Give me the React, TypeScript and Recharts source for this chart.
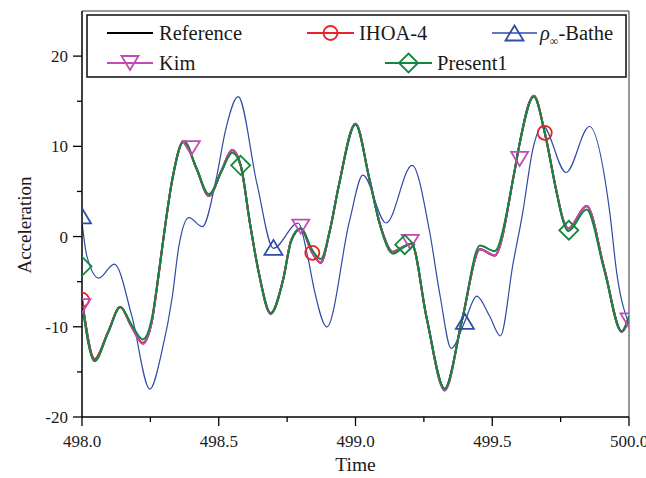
import React from 'react';
import { LineChart, Line, XAxis, YAxis, ReferenceLine, Label } from 'recharts';

const FONT = '"Liberation Serif", "Times New Roman", Times, serif';

// ---------- data ----------
const mainTime = [
  498.0, 498.046, 498.095, 498.14, 498.18, 498.222, 498.256, 498.275, 498.3, 498.33,
  498.372, 498.418, 498.464, 498.51, 498.549, 498.58, 498.615, 498.645, 498.69, 498.735,
  498.765, 498.8, 498.842, 498.873, 498.905, 498.94, 499.0, 499.05, 499.09, 499.137,
  499.17, 499.205, 499.26, 499.326, 499.39, 499.455, 499.509, 499.58, 499.6, 499.652,
  499.692, 499.735, 499.76, 499.778, 499.845, 499.91, 499.973, 500.0,
];
const referenceAcc = [
  -7.0, -13.6, -10.6, -7.8, -9.9, -11.8, -9.3, -5.4, 0.3, 6.3,
  10.6, 7.6, 4.5, 7.3, 9.6, 7.9, 1.3, -3.8, -8.5, -4.8,
  -0.4, 0.9, -1.8, -2.9, 0.5, 5.8, 12.5, 6.5, 1.3, -1.7,
  -1.2, -0.8, -9.0, -16.9, -9.2, -1.4, -2.1, 7.0, 10.3, 15.6,
  11.5, 5.0, 1.8, 0.9, 3.4, -3.6, -10.5, -9.0,
];
const ihoaAcc = [
  -7.0, -13.6, -10.6, -7.8, -9.9, -11.8, -9.3, -5.4, 0.3, 6.3,
  10.6, 7.6, 4.5, 7.3, 9.6, 7.9, 1.3, -3.8, -8.5, -4.8,
  -0.4, 0.9, -1.8, -2.9, 0.5, 5.8, 12.5, 6.5, 1.3, -1.7,
  -1.2, -0.8, -9.0, -16.9, -9.2, -1.4, -2.1, 7.0, 10.3, 15.6,
  11.5, 5.0, 1.8, 0.9, 3.4, -3.6, -10.5, -9.0,
];
const kimAcc = [
  -7.1, -13.8, -10.6, -7.8, -9.9, -11.9, -9.3, -5.4, 0.3, 6.3,
  10.6, 7.6, 4.5, 7.3, 9.6, 7.9, 1.3, -3.8, -8.6, -4.8,
  -0.4, 0.9, -1.8, -2.9, 0.5, 5.8, 12.5, 6.5, 1.3, -1.8,
  -1.2, -0.8, -9.0, -17.1, -9.2, -1.4, -2.1, 7.0, 10.3, 15.6,
  11.5, 5.0, 1.8, 0.9, 3.4, -3.6, -10.6, -9.0,
];
const present1Acc = [
  -7.4, -13.8, -10.7, -7.8, -9.7, -11.4, -9.0, -5.3, 0.3, 6.3,
  10.5, 7.6, 4.7, 7.2, 9.3, 7.9, 1.3, -3.8, -8.5, -4.9,
  -0.5, 0.9, -1.5, -2.5, 0.5, 5.8, 12.4, 6.5, 1.2, -1.9,
  -1.3, -0.8, -9.0, -16.9, -9.2, -1.0, -1.6, 7.0, 10.3, 15.5,
  11.5, 4.9, 1.6, 0.6, 3.0, -3.8, -10.5, -8.8,
];

const batheTime = [
  498.0, 498.018, 498.061, 498.118, 498.183, 498.248, 498.293, 498.33, 498.354, 498.391,
  498.44, 498.49, 498.525, 498.571, 498.64, 498.7, 498.79, 498.825, 498.85, 498.895,
  498.978, 499.027, 499.112, 499.207, 499.27, 499.31, 499.35, 499.4, 499.443, 499.49,
  499.53, 499.576, 499.61, 499.65, 499.684, 499.77, 499.855, 499.93, 499.955, 500.0,
];
const batheAcc = [
  1.6, -2.2, -4.6, -3.05, -8.9, -16.9, -12.6, -6.7, -1.1, 2.1,
  1.1, 6.3, 11.8, 15.5, 5.8, -1.3, 1.5, -2.2, -6.0, -10.0,
  1.7, 6.8, 1.5, 7.9, 0.7, -6.7, -12.4, -9.4, -6.6, -8.8,
  -11.0, -3.0, 2.4, 9.9, 12.3, 7.1, 12.2, 2.6, -4.0, -9.7,
];

// marker positions
const ihoaMarkTime = [498.0, 498.842, 499.692];
const ihoaMarkAcc = [-7.0, -1.8, 11.5];
const batheMarkTime = [498.0, 498.7, 499.4];
const batheMarkAcc = [2.3, -1.2, -9.4];
const kimMarkTime = [498.0, 498.4, 498.8, 499.2, 499.6, 500.0];
const kimMarkAcc = [-7.7, 9.8, 1.1, -0.6, 8.6, -9.3];
const present1MarkTime = [498.0, 498.58, 499.18, 499.78];
const present1MarkAcc = [-3.3, 7.9, -0.9, 0.7];

const xTicks = [498.0, 498.25, 498.5, 498.75, 499.0, 499.25, 499.5, 499.75, 500.0];
const yTicks = [-20, -15, -10, -5, 0, 5, 10, 15, 20];

// ---------- colours ----------
const C_REF = '#000000';
const C_IHOA = '#e8232b';
const C_BATHE = '#2f4ba6';
const C_KIM = '#c24ab2';
const C_PRES = '#12873d';

const zip = (t: number[], v: number[]) => t.map((x, i) => ({ t: x, y: v[i] }));

const referenceData = zip(mainTime, referenceAcc);
const ihoaData = zip(mainTime, ihoaAcc);
const kimData = zip(mainTime, kimAcc);
const present1Data = zip(mainTime, present1Acc);
const batheData = zip(batheTime, batheAcc);
const ihoaMarks = zip(ihoaMarkTime, ihoaMarkAcc);
const batheMarks = zip(batheMarkTime, batheMarkAcc);
const kimMarks = zip(kimMarkTime, kimMarkAcc);
const present1Marks = zip(present1MarkTime, present1MarkAcc);

// ---------- marker shapes ----------
type Shape = 'circle' | 'up' | 'down' | 'diamond';
const Marker = ({ shape, cx, cy, color }: { shape: Shape; cx: number; cy: number; color: string }) => {
  const sw = 1.8;
  if (shape === 'circle') return <circle cx={cx} cy={cy} r={7} fill="none" stroke={color} strokeWidth={sw} />;
  if (shape === 'up')
    return (
      <polygon
        points={`${cx - 9},${cy + 7.5} ${cx + 9},${cy + 7.5} ${cx},${cy - 7.5}`}
        fill="none"
        stroke={color}
        strokeWidth={sw}
        strokeLinejoin="miter"
      />
    );
  if (shape === 'down')
    return (
      <polygon
        points={`${cx - 8.5},${cy - 7} ${cx + 8.5},${cy - 7} ${cx},${cy + 7}`}
        fill="none"
        stroke={color}
        strokeWidth={sw}
      />
    );
  return (
    <polygon
      points={`${cx},${cy - 9.5} ${cx + 9.5},${cy} ${cx},${cy + 9.5} ${cx - 9.5},${cy}`}
      fill="none"
      stroke={color}
      strokeWidth={sw}
    />
  );
};

const dotRenderer = (shape: Shape, color: string) => (p: any) => (
  <g key={`m-${shape}-${p.index}`}>
    {p.cx != null && p.cy != null ? <Marker shape={shape} cx={p.cx} cy={p.cy} color={color} /> : null}
  </g>
);

// ---------- ticks ----------
const YTick = (props: any) => {
  const { x, y, payload } = props;
  const v = payload.value as number;
  const major = v % 10 === 0;
  return (
    <g>
      <line x1={x} y1={y} x2={x - (major ? 9 : 5)} y2={y} stroke="#000" strokeWidth={1.3} />
      {major && (
        <text x={x - 14} y={y + 6} textAnchor="end" fontSize={17} fontFamily={FONT} fill="#1a1a1a">
          {v}
        </text>
      )}
    </g>
  );
};

const XTick = (props: any) => {
  const { x, y, payload } = props;
  const v = payload.value as number;
  const major = Math.abs(v * 2 - Math.round(v * 2)) < 1e-6;
  return (
    <g>
      <line x1={x} y1={y} x2={x} y2={y + (major ? 9 : 5)} stroke="#000" strokeWidth={1.3} />
      {major && (
        <text x={x} y={y + 30} textAnchor="middle" fontSize={17} fontFamily={FONT} fill="#1a1a1a">
          {v.toFixed(1)}
        </text>
      )}
    </g>
  );
};

// ---------- legend ----------
const LegendOverlay = () => {
  const fs = 20.5;
  const items = [
    { name: 'Reference', color: C_REF, shape: null as Shape | null, x1: 107, x2: 153, tx: 159, ly: 33 },
    { name: 'IHOA-4', color: C_IHOA, shape: 'circle' as Shape, x1: 307, x2: 354, tx: 359, ly: 33 },
    { name: 'BATHE', color: C_BATHE, shape: 'up' as Shape, x1: 492, x2: 537, tx: 540, ly: 33 },
    { name: 'Kim', color: C_KIM, shape: 'down' as Shape, x1: 107, x2: 153, tx: 159, ly: 63 },
    { name: 'Present1', color: C_PRES, shape: 'diamond' as Shape, x1: 385, x2: 432, tx: 437, ly: 63 },
  ];
  return (
    <svg width={646} height={90} style={{ position: 'absolute', left: 0, top: 0, pointerEvents: 'none' }}>
      <rect x={87} y={15} width={539} height={62} fill="#fff" stroke="#1a1a1a" strokeWidth={1.6} />
      {items.map((it) => (
        <g key={it.name}>
          <line x1={it.x1} y1={it.ly} x2={it.x2} y2={it.ly} stroke={it.color} strokeWidth={it.name === 'BATHE' ? 1.4 : 2} />
          {it.shape && <Marker shape={it.shape} cx={(it.x1 + it.x2) / 2} cy={it.ly} color={it.color} />}
          {it.name === 'BATHE' ? (
            <text x={it.tx} y={it.ly + 7} fontSize={fs} fontFamily={FONT} fill="#1a1a1a">
              <tspan fontStyle="italic">ρ</tspan>
              <tspan fontSize={12} dy={5}>∞</tspan>
              <tspan dy={-5}>-Bathe</tspan>
            </text>
          ) : (
            <text x={it.tx} y={it.ly + 7} fontSize={fs} fontFamily={FONT} fill="#1a1a1a">
              {it.name}
            </text>
          )}
        </g>
      ))}
    </svg>
  );
};

export default function App() {
  return (
    <div style={{ position: 'absolute', left: 0, top: 0, width: 646, height: 478, background: '#fff' }}>
      <LineChart width={646} height={478} margin={{ top: 11, right: 17, left: 22, bottom: 21 }}>
        <XAxis
          type="number"
          dataKey="t"
          domain={[498, 500]}
          ticks={xTicks}
          interval={0}
          allowDataOverflow
          height={40}
          tickSize={0}
          tickMargin={0}
          tickLine={false}
          axisLine={{ stroke: '#000', strokeWidth: 1.5 }}
          tick={<XTick />}
        >
          <Label
            content={(p: any) => {
              const vb = p.viewBox || { x: 82, y: 417, width: 547 };
              return (
                <text x={vb.x + vb.width / 2} y={vb.y + 54} textAnchor="middle" fontSize={19.5} fontFamily={FONT} fill="#1a1a1a">
                  Time
                </text>
              );
            }}
          />
        </XAxis>
        <YAxis
          type="number"
          domain={[-20, 25]}
          ticks={yTicks}
          interval={0}
          allowDataOverflow
          width={60}
          tickSize={0}
          tickMargin={0}
          tickLine={false}
          axisLine={{ stroke: '#000', strokeWidth: 1.5 }}
          tick={<YTick />}
        >
          <Label
            content={(p: any) => {
              const vb = p.viewBox || { x: 22, y: 11, width: 60, height: 406 };
              const cx = vb.x + 9;
              const cy = 225;
              return (
                <text x={cx} y={cy} transform={`rotate(-90, ${cx}, ${cy})`} textAnchor="middle" fontSize={19} fontFamily={FONT} fill="#1a1a1a">
                  Acceleration
                </text>
              );
            }}
          />
        </YAxis>
        <ReferenceLine y={25} stroke="#333" strokeWidth={1} ifOverflow="extendDomain" />
        <ReferenceLine x={500} stroke="#333" strokeWidth={1} ifOverflow="extendDomain" />

        <Line data={referenceData} dataKey="y" type="monotone" stroke={C_REF} strokeWidth={2} dot={false} activeDot={false} isAnimationActive={false} />
        <Line data={ihoaData} dataKey="y" type="monotone" stroke={C_IHOA} strokeWidth={2} dot={false} activeDot={false} isAnimationActive={false} />
        <Line data={ihoaMarks} dataKey="y" stroke="none" dot={dotRenderer('circle', C_IHOA)} activeDot={false} isAnimationActive={false} />
        <Line data={batheData} dataKey="y" type="monotone" stroke={C_BATHE} strokeWidth={1.2} dot={false} activeDot={false} isAnimationActive={false} />
        <Line data={batheMarks} dataKey="y" stroke="none" dot={dotRenderer('up', C_BATHE)} activeDot={false} isAnimationActive={false} />
        <Line data={kimData} dataKey="y" type="monotone" stroke={C_KIM} strokeWidth={2} dot={false} activeDot={false} isAnimationActive={false} />
        <Line data={kimMarks} dataKey="y" stroke="none" dot={dotRenderer('down', C_KIM)} activeDot={false} isAnimationActive={false} />
        <Line data={present1Data} dataKey="y" type="monotone" stroke={C_PRES} strokeWidth={2} dot={false} activeDot={false} isAnimationActive={false} />
        <Line data={present1Marks} dataKey="y" stroke="none" dot={dotRenderer('diamond', C_PRES)} activeDot={false} isAnimationActive={false} />
      </LineChart>
      <LegendOverlay />
    </div>
  );
}
